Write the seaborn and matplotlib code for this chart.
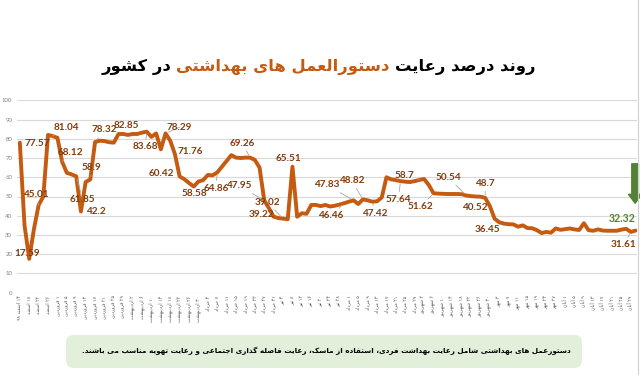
import re
import numpy as np
import pandas as pd
import matplotlib
matplotlib.use('Agg')
import matplotlib.pyplot as plt
import seaborn as sns
from matplotlib.patches import FancyBboxPatch
from matplotlib.offsetbox import TextArea, HPacker, AnnotationBbox
from matplotlib.lines import Line2D

# ---------------- data ----------------
values = [
    78.0, 35.0, 17.6, 33.0, 45.5, 50.0, 82.0, 81.4, 80.5, 68.1,
    62.3, 61.5, 60.5, 42.2, 57.5, 58.9, 78.3, 79.0, 78.8, 78.2,
    78.0, 82.5, 82.5, 82.0, 82.5, 82.5, 83.2, 83.7, 81.0, 82.8,
    74.5, 82.8, 79.0, 72.0, 60.4, 59.0, 57.0, 55.2, 57.8, 58.5,
    61.2, 61.0, 62.5, 65.5, 68.5, 71.5, 70.2, 70.0, 70.2, 70.2,
    69.0, 65.0, 48.0, 43.9, 39.5, 38.8, 38.5, 38.2, 65.5, 39.5,
    41.3, 41.0, 45.6, 45.6, 45.0, 45.6, 44.8, 45.2, 45.8, 46.5,
    47.3, 48.0, 46.1, 48.5, 48.0, 47.3, 47.5, 49.5, 60.0, 58.9,
    58.5, 58.0, 57.7, 57.5, 58.0, 58.6, 59.1, 56.0, 51.7, 51.5,
    51.4, 51.3, 51.3, 51.3, 51.2, 50.5, 50.2, 50.0, 49.9, 49.3,
    45.0, 38.5, 36.6, 35.9, 35.6, 35.5, 34.3, 35.0, 33.6, 33.5,
    32.5, 31.0, 31.6, 31.2, 33.4, 32.7, 33.0, 33.4, 32.9, 32.6,
    36.1, 32.5, 32.2, 32.9, 32.3, 32.2, 32.2, 32.2, 32.8, 33.2,
    31.6, 32.3,
]

tick_labels = [
    '۱۴ اسفند ۹۸', '۱۸ اسفند', '۲۲ اسفند', '۲۶ اسفند',
    '۱ فروردین', '۵ فروردین', '۹ فروردین', '۱۳ فروردین', '۱۷ فروردین', '۲۱ فروردین', '۲۵ فروردین', '۲۹ فروردین',
    '۲ اردیبهشت', '۶ اردیبهشت', '۱۰ اردیبهشت', '۱۴ اردیبهشت', '۱۸ اردیبهشت', '۲۲ اردیبهشت', '۲۶ اردیبهشت', '۳۰ اردیبهشت',
    '۳ خرداد', '۷ خرداد', '۱۱ خرداد', '۱۵ خرداد', '۱۹ خرداد', '۲۳ خرداد', '۲۷ خرداد', '۳۱ خرداد',
    '۴ تیر', '۸ تیر', '۱۲ تیر', '۱۶ تیر', '۲۰ تیر', '۲۴ تیر', '۲۸ تیر',
    '۱ مرداد', '۵ مرداد', '۹ مرداد', '۱۳ مرداد', '۱۷ مرداد', '۲۱ مرداد', '۲۵ مرداد', '۲۹ مرداد',
    '۲ شهریور', '۶ شهریور', '۱۰ شهریور', '۱۴ شهریور', '۱۸ شهریور', '۲۲ شهریور', '۲۶ شهریور', '۳۰ شهریور',
    '۳ مهر', '۷ مهر', '۱۱ مهر', '۱۵ مهر', '۱۹ مهر', '۲۳ مهر', '۲۷ مهر',
    '۱ آبان', '۵ آبان', '۹ آبان', '۱۳ آبان', '۱۷ آبان', '۲۱ آبان', '۲۵ آبان', '۲۹ آبان',
]

label_texts = ['77.57', '17.59', '45.01', '81.04', '68.12', '78.32', '58.9', '61.85', '42.2',
               '82.85', '83.68', '78.29', '71.76', '60.42', '58.58', '64.86', '69.26', '47.95',
               '39.02', '39.22', '65.51', '47.83', '48.82', '46.46', '47.42', '58.7', '57.64',
               '51.62', '50.54', '40.52', '48.7', '36.45', '31.61']
label_points = [0, 2, 4, 7, 9, 16, 15, 12, 13,
                23, 27, 31, 33, 34, 37, 42, 49, 52,
                56, 55, 58, 71, 73, 69, 75, 85, 81,
                88, 95, 98, 99, 101, 130]
label_x = [3.8, 1.5, 3.4, 9.9, 10.8, 18.0, 15.3, 13.4, 16.2,
           22.7, 26.7, 34.0, 36.2, 30.0, 37.2, 41.7, 47.3, 46.6,
           52.6, 51.5, 57.1, 65.3, 70.6, 66.2, 75.6, 81.9, 80.5,
           85.3, 91.1, 96.8, 99.0, 99.4, 128.4]
label_y = [77.3, 20.6, 50.8, 86.0, 73.0, 84.6, 65.0, 48.2, 42.1,
           86.8, 75.9, 86.0, 73.6, 61.7, 51.3, 54.3, 77.7, 55.5,
           47.1, 40.4, 69.9, 56.0, 58.2, 39.9, 41.3, 60.7, 48.5,
           44.7, 60.0, 44.4, 56.9, 32.6, 24.8]
label_leader = [False, False, True, True, True, True, True, True, False,
                False, True, True, False, False, False, True, True, True,
                True, False, False, True, True, True, True, True, True,
                True, True, False, True, False, True]

last_label = '32.32'
last_point = 131
last_label_pos = (128.2, 38.7)

title_parts = ['روند درصد رعایت', 'دستورالعمل های بهداشتی', 'در کشور']
note_text = 'دستورعمل های بهداشتی شامل رعایت بهداشت فردی، استفاده از ماسک، رعایت فاصله گذاری اجتماعی و رعایت تهویه مناسب می باشند.'

# ---------------- Persian shaping helper ----------------
FORMS = {
    '\u0627': ('\uFE8D', '\uFE8E', None, None),
    '\u0622': ('\uFE81', '\uFE82', None, None),
    '\u0628': ('\uFE8F', '\uFE90', '\uFE91', '\uFE92'),
    '\u067E': ('\uFB56', '\uFB57', '\uFB58', '\uFB59'),
    '\u062A': ('\uFE95', '\uFE96', '\uFE97', '\uFE98'),
    '\u062C': ('\uFE9D', '\uFE9E', '\uFE9F', '\uFEA0'),
    '\u062E': ('\uFEA5', '\uFEA6', '\uFEA7', '\uFEA8'),
    '\u062F': ('\uFEA9', '\uFEAA', None, None),
    '\u0630': ('\uFEAB', '\uFEAC', None, None),
    '\u0631': ('\uFEAD', '\uFEAE', None, None),
    '\u0632': ('\uFEAF', '\uFEB0', None, None),
    '\u0633': ('\uFEB1', '\uFEB2', '\uFEB3', '\uFEB4'),
    '\u0634': ('\uFEB5', '\uFEB6', '\uFEB7', '\uFEB8'),
    '\u0635': ('\uFEB9', '\uFEBA', '\uFEBB', '\uFEBC'),
    '\u0639': ('\uFEC9', '\uFECA', '\uFECB', '\uFECC'),
    '\u0641': ('\uFED1', '\uFED2', '\uFED3', '\uFED4'),
    '\u0642': ('\uFED5', '\uFED6', '\uFED7', '\uFED8'),
    '\u0644': ('\uFEDD', '\uFEDE', '\uFEDF', '\uFEE0'),
    '\u0645': ('\uFEE1', '\uFEE2', '\uFEE3', '\uFEE4'),
    '\u0646': ('\uFEE5', '\uFEE6', '\uFEE7', '\uFEE8'),
    '\u0647': ('\uFEE9', '\uFEEA', '\uFEEB', '\uFEEC'),
    '\u0648': ('\uFEED', '\uFEEE', None, None),
    '\u06CC': ('\uFBFC', '\uFBFD', '\uFBFE', '\uFBFF'),
    '\u06A9': ('\uFB8E', '\uFB8F', '\uFB90', '\uFB91'),
    '\u06AF': ('\uFB92', '\uFB93', '\uFB94', '\uFB95'),
}


def shape(s):
    out = []
    n = len(s)
    for k, c in enumerate(s):
        if c not in FORMS:
            out.append(c)
            continue
        f = FORMS[c]
        prev = s[k - 1] if k > 0 else ''
        nxt = s[k + 1] if k + 1 < n else ''
        pj = prev in FORMS and FORMS[prev][2] is not None
        nj = f[2] is not None and nxt in FORMS
        if pj and nj:
            g = f[3]
        elif pj:
            g = f[1]
        elif nj:
            g = f[2]
        else:
            g = f[0]
        out.append(g)
    vis = ''.join(out)[::-1]
    vis = re.sub(r'[0-9\u06F0-\u06F9]+', lambda m: m.group(0)[::-1], vis)
    return vis


# ---------------- plot ----------------
sns.set_theme(style='white')
plt.rcParams['font.family'] = ['DejaVu Sans']

LINE = '#C55A11'
LABEL = '#843C0C'
GREEN = '#548235'

fig = plt.figure(figsize=(6.4, 3.75), dpi=100)
fig.patch.set_facecolor('white')
ax = fig.add_axes([17 / 640, 1 - 292.7 / 375, 620 / 640, (292.7 - 100.3) / 375])

df = pd.DataFrame({'idx': np.arange(len(values)), 'value': values})
sns.lineplot(data=df, x='idx', y='value', color=LINE, lw=2.8, ax=ax,
             solid_joinstyle='round', solid_capstyle='round')

ax.set_xlim(-0.6, 131.3)
ax.set_ylim(0, 100)
ax.set_yticks(range(0, 101, 10))
ax.set_yticklabels([str(v) for v in range(0, 101, 10)], fontsize=4.3, color='#7F7F7F', family='Lato')
ax.set_xticks(range(0, len(values), 2))
ax.set_xticklabels([shape(t) for t in tick_labels], rotation=90, fontsize=3.4, color='#595959',
                   family='DejaVu Sans')
ax.tick_params(axis='both', length=0)
ax.tick_params(axis='y', pad=3.5)
ax.tick_params(axis='x', pad=2)
ax.grid(axis='y', color='#D9D9D9', lw=0.8)
ax.grid(axis='x', visible=False)
for sp in ax.spines.values():
    sp.set_visible(False)
ax.set_xlabel('')
ax.set_ylabel('')
ax.set_facecolor('none')

for txt, pi, lx, ly, ld in zip(label_texts, label_points, label_x, label_y, label_leader):
    arrow = dict(arrowstyle='-', color='#A6A6A6', lw=0.6, shrinkA=0, shrinkB=2) if ld else None
    ax.annotate(txt, xy=(pi, values[pi]), xytext=(lx, ly), textcoords='data',
                ha='center', va='center', fontsize=7.2, fontweight='bold', color=LABEL,
                family='Lato', arrowprops=arrow, zorder=5)

ax.annotate(last_label, xy=(last_point, values[last_point]), xytext=last_label_pos, textcoords='data',
            ha='center', va='center', fontsize=7.6, fontweight='bold', color=GREEN, family='Lato', zorder=5)

# green down arrow
ax.annotate('', xy=(130.9, 46.5), xytext=(130.9, 67.0), textcoords='data',
            arrowprops=dict(arrowstyle='simple,head_length=0.8,head_width=1.2,tail_width=0.6',
                            color=GREEN, mutation_scale=8, shrinkA=0, shrinkB=0), zorder=6)

# title (three coloured parts, right-to-left)
TSIZE = 11.8
parts = [
    TextArea(shape(title_parts[2]), textprops=dict(fontsize=TSIZE, fontweight='bold', color='black', family='DejaVu Sans')),
    TextArea(shape(title_parts[1]), textprops=dict(fontsize=TSIZE, fontweight='bold', color=LINE, family='DejaVu Sans')),
    TextArea(shape(title_parts[0]), textprops=dict(fontsize=TSIZE, fontweight='bold', color='black', family='DejaVu Sans')),
]
pack = HPacker(children=parts, sep=4, pad=0, align='baseline')
ab = AnnotationBbox(pack, (318.5 / 640, 1 - 67 / 375), xycoords='figure fraction', frameon=False,
                    box_alignment=(0.5, 0.5), annotation_clip=False)
fig.add_artist(ab)

# note box
box = FancyBboxPatch((66 / 640, 1 - 368 / 375), 516 / 640, 33 / 375,
                     boxstyle='round,pad=0,rounding_size=0.012', mutation_aspect=640 / 375,
                     transform=fig.transFigure, facecolor='#E2EFDA', edgecolor='none', zorder=0)
fig.add_artist(box)
fig.text(326 / 640, 1 - 351 / 375, shape(note_text), ha='center', va='center', fontsize=5.2,
         fontweight='bold', color='black', family='DejaVu Sans')

# right frame line
fig.add_artist(Line2D([637.5 / 640, 637.5 / 640], [0, 1], transform=fig.transFigure, color='#D0D0D0', lw=0.8))

fig.savefig('out.png', dpi=100, facecolor='white')
